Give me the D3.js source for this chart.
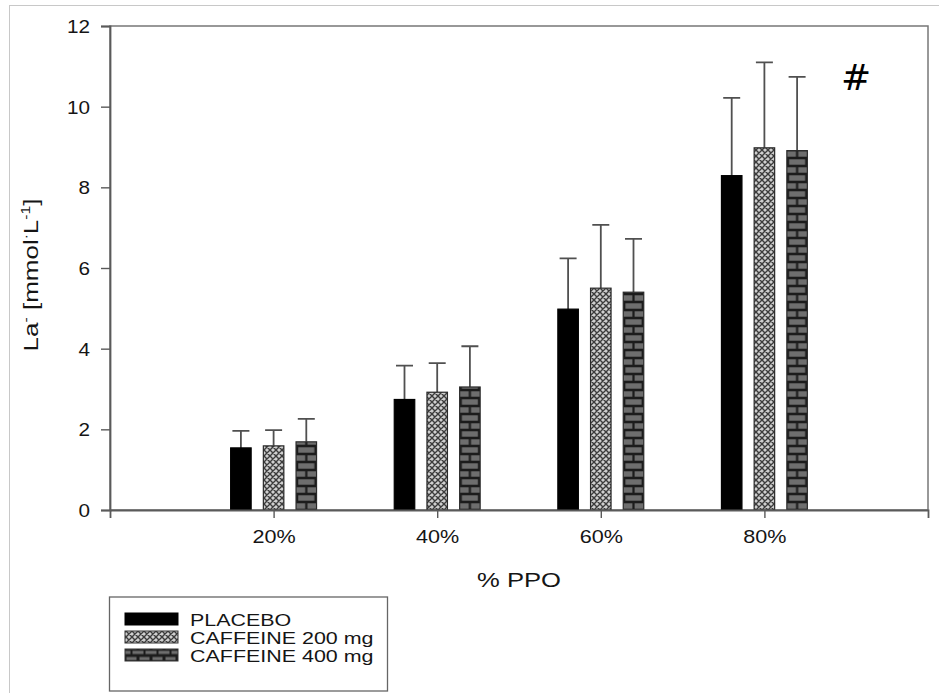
<!DOCTYPE html>
<html>
<head>
<meta charset="utf-8">
<script src="https://cdn.jsdelivr.net/npm/d3@7"></script>
<style>
  html, body { margin: 0; padding: 0; background: #fff; }
  svg { display: block; font-family: "Liberation Sans", Arial, sans-serif; }
</style>
</head>
<body>
<svg id="chart" width="939" height="693"></svg>
<script>
// Blood lactate by exercise intensity, mean + SD
const categories = ["20%", "40%", "60%", "80%"];
const seriesNames = ["PLACEBO", "CAFFEINE 200 mg", "CAFFEINE 400 mg"];
const placebo    = [1.54, 2.74, 4.98, 8.29];
const placeboSD  = [0.42, 0.84, 1.26, 1.93];
const caf200     = [1.59, 2.92, 5.50, 8.98];
const caf200SD   = [0.39, 0.72, 1.57, 2.12];
const caf400     = [1.69, 3.05, 5.40, 8.91];
const caf400SD   = [0.57, 1.01, 1.32, 1.83];
const yTicks     = [0, 2, 4, 6, 8, 10, 12];

const seriesValues = [placebo, caf200, caf400];
const seriesSD = [placeboSD, caf200SD, caf400SD];

const svg = d3.select("#chart");
const plot = { left: 110, right: 928, top: 26, bottom: 510 };

const x = d3.scaleLinear().domain([0, categories.length + 1]).range([plot.left, plot.right]);
const y = d3.scaleLinear().domain([0, 12]).range([plot.bottom, plot.top]);
const offset = d3.scalePoint().domain(seriesNames).range([-32.7, 32.7]);
const barW = 20.5;
const capW = 17;
const axisColor = "#5a5a5a";
const textColor = "#151515";

const defs = svg.append("defs");

// Cross-hatch fill for the 200 mg series
const hatch = defs.append("pattern")
  .attr("id", "hatch")
  .attr("patternUnits", "userSpaceOnUse")
  .attr("width", 6).attr("height", 6);
hatch.append("rect").attr("width", 6).attr("height", 6).attr("fill", "#cfcfcf");
hatch.append("path")
  .attr("d", "M0,0L6,6M6,0L0,6M-1,5L1,7M5,-1L7,1M-1,1L1,-1M5,7L7,5")
  .attr("stroke", "#3c3c3c").attr("stroke-width", 1.4);

// Brick fill for the 400 mg series, one tile anchored on each bar's left edge
function brickPattern(id, x0, w, rowH) {
  const p = defs.append("pattern")
    .attr("id", id)
    .attr("patternUnits", "userSpaceOnUse")
    .attr("x", x0).attr("y", plot.bottom)
    .attr("width", w).attr("height", rowH * 2);
  p.append("rect").attr("width", w).attr("height", rowH * 2).attr("fill", "#1c1c1c");
  const bh = rowH - 2.6;
  p.append("rect").attr("x", 2.2).attr("y", 1.3).attr("width", w - 4.4).attr("height", bh).attr("fill", "#6e6e6e");
  p.append("rect").attr("x", 0).attr("y", rowH + 1.3).attr("width", w / 2 - 1.1).attr("height", bh).attr("fill", "#6e6e6e");
  p.append("rect").attr("x", w / 2 + 1.1).attr("y", rowH + 1.3).attr("width", w / 2 - 1.1).attr("height", bh).attr("fill", "#6e6e6e");
}

// Horizontally widened text, anchored at (tx, ty)
function wideText(sel, tx, ty, sx, rot) {
  return sel.attr("x", 0).attr("y", 0)
    .attr("transform", `translate(${tx},${ty})${rot ? ` rotate(${rot})` : ""} scale(${sx},1)`);
}

// Outer frame of the figure
svg.append("rect")
  .attr("x", 9.5).attr("y", 5.5).attr("width", 960).attr("height", 720)
  .attr("fill", "none").attr("stroke", "#c8c8c8").attr("stroke-width", 1);

// Plot frame
svg.append("rect")
  .attr("x", plot.left).attr("y", plot.top)
  .attr("width", plot.right - plot.left).attr("height", plot.bottom - plot.top)
  .attr("fill", "none").attr("stroke", "#777").attr("stroke-width", 1.5);

// Bars
const bars = [];
seriesNames.forEach((name, s) => {
  categories.forEach((c, i) => {
    bars.push({ s, name, i, v: seriesValues[s][i], sd: seriesSD[s][i] });
  });
});

bars.filter(d => d.s === 2).forEach(d => {
  const bx = x(d.i + 1) + offset(d.name) - barW / 2;
  brickPattern("brick" + d.i, bx, barW, 8);
});

function barFill(d) {
  if (d.s === 0) return "#000";
  if (d.s === 1) return "url(#hatch)";
  return "url(#brick" + d.i + ")";
}

// Error bars (upper SD only)
const eb = svg.append("g").attr("stroke", "#505050").attr("stroke-width", 1.8).attr("fill", "none");
eb.selectAll("path").data(bars).join("path")
  .attr("d", d => {
    const cx = x(d.i + 1) + offset(d.name);
    const y0 = y(d.v), y1 = y(d.v + d.sd);
    return `M${cx},${y0}L${cx},${y1}M${cx - capW / 2},${y1}L${cx + capW / 2},${y1}`;
  });

svg.append("g").selectAll("rect").data(bars).join("rect")
  .attr("x", d => x(d.i + 1) + offset(d.name) - barW / 2)
  .attr("y", d => y(d.v))
  .attr("width", barW)
  .attr("height", d => y(0) - y(d.v))
  .attr("fill", barFill)
  .attr("stroke", d => d.s === 0 ? "#000" : "#2a2a2a")
  .attr("stroke-width", 1.2);

// Y axis
const yAxis = svg.append("g")
  .attr("transform", `translate(${plot.left},0)`)
  .call(d3.axisLeft(y).tickValues(yTicks).tickFormat(d3.format("d")).tickSize(9));
yAxis.select(".domain").attr("stroke", axisColor).attr("stroke-width", 1.8);
yAxis.selectAll(".tick line").attr("stroke", axisColor).attr("stroke-width", 1.4);
yAxis.selectAll(".tick text")
  .attr("font-size", 18).attr("fill", textColor).attr("dy", null)
  .attr("font-family", "'Liberation Sans', Arial, sans-serif")
  .each(function () { wideText(d3.select(this), -20, 6.5, 1.15); });

// X axis
const xAxis = svg.append("g")
  .attr("transform", `translate(0,${plot.bottom})`)
  .call(d3.axisBottom(x).tickValues(d3.range(1, categories.length + 1))
    .tickFormat(d => categories[d - 1]).tickSize(8));
xAxis.select(".domain").attr("stroke", axisColor).attr("stroke-width", 1.8);
xAxis.selectAll(".tick line").attr("stroke", axisColor).attr("stroke-width", 1.4);
xAxis.selectAll(".tick text")
  .attr("font-size", 18).attr("fill", textColor).attr("dy", null)
  .attr("font-family", "'Liberation Sans', Arial, sans-serif")
  .each(function () { wideText(d3.select(this), 0, 33, 1.2); });

// Axis titles
wideText(svg.append("text"), (plot.left + plot.right) / 2, 587, 1.22)
  .attr("text-anchor", "middle").attr("font-size", 21).attr("fill", textColor)
  .text("% PPO");

const yTitle = wideText(svg.append("text"), 38, 275, 1.3, -90)
  .attr("text-anchor", "middle").attr("font-size", 20).attr("fill", textColor);
yTitle.append("tspan").text("La");
yTitle.append("tspan").attr("dy", -8).attr("font-size", 12).text("-");
yTitle.append("tspan").attr("dy", 8).text(" [mmol");
yTitle.append("tspan").attr("dy", -8).attr("font-size", 12).text("·");
yTitle.append("tspan").attr("dy", 8).text("L");
yTitle.append("tspan").attr("dy", -8).attr("font-size", 12).text("-1");
yTitle.append("tspan").attr("dy", 8).text("]");

// Significance marker
svg.append("text")
  .attr("x", 856).attr("y", 90).attr("text-anchor", "middle")
  .attr("font-size", 36).attr("fill", "#000")
  .attr("font-family", "'DejaVu Sans', sans-serif")
  .text("#");

// Legend
const legend = svg.append("g");
legend.append("rect")
  .attr("x", 109.5).attr("y", 597).attr("width", 278).attr("height", 94)
  .attr("fill", "#fff").attr("stroke", "#666").attr("stroke-width", 1.3);

defs.append("pattern")
  .attr("id", "brickLegend")
  .attr("patternUnits", "userSpaceOnUse")
  .attr("x", 125).attr("y", 649.5)
  .attr("width", 13).attr("height", 11)
  .call(p => {
    p.append("rect").attr("width", 13).attr("height", 11).attr("fill", "#1c1c1c");
    p.append("rect").attr("x", 1.5).attr("y", 1.5).attr("width", 10).attr("height", 3.2).attr("fill", "#6e6e6e");
    p.append("rect").attr("x", 0).attr("y", 6.3).attr("width", 5.5).attr("height", 3.2).attr("fill", "#6e6e6e");
    p.append("rect").attr("x", 7.5).attr("y", 6.3).attr("width", 5.5).attr("height", 3.2).attr("fill", "#6e6e6e");
  });

const legendFills = ["#000", "url(#hatch)", "url(#brickLegend)"];
const legendRows = seriesNames.map((name, s) => ({ name, s }));
const row = legend.selectAll("g.row").data(legendRows).join("g").attr("class", "row")
  .attr("transform", d => `translate(0,${619 + d.s * 18})`);
row.append("rect")
  .attr("x", 125).attr("y", -6).attr("width", 53).attr("height", 12)
  .attr("fill", d => legendFills[d.s])
  .attr("stroke", d => d.s === 0 ? "#000" : "#333").attr("stroke-width", 1);
row.append("text")
  .attr("font-size", 16.5).attr("fill", textColor)
  .each(function () { wideText(d3.select(this), 190, 6.5, 1.3); })
  .text(d => d.name);
</script>
</body>
</html>
